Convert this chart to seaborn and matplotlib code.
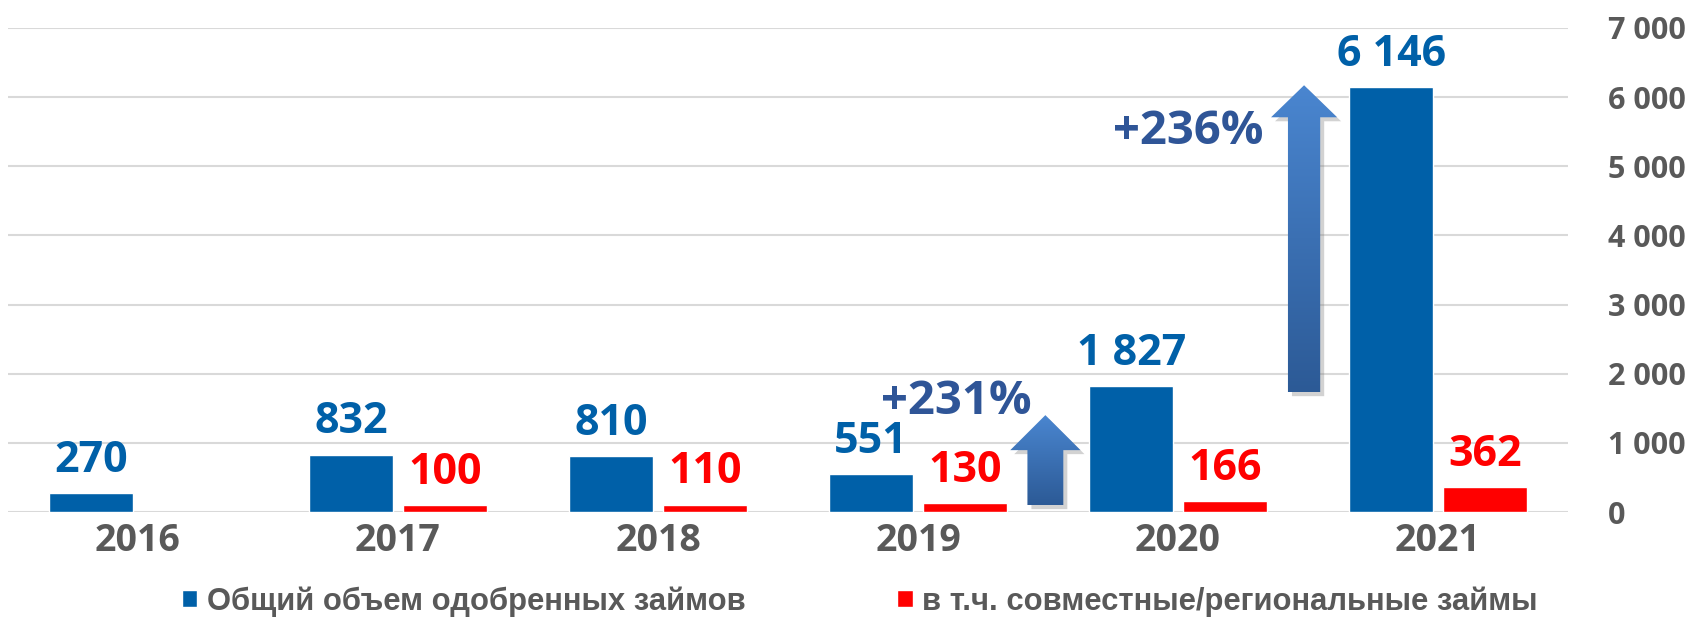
import numpy as np
import pandas as pd
import seaborn as sns
import matplotlib.pyplot as plt
from matplotlib.patches import Polygon, Patch
from matplotlib import transforms
from matplotlib.ticker import FuncFormatter

years = ["2016", "2017", "2018", "2019", "2020", "2021"]
total_loans = [270, 832, 810, 551, 1827, 6146]
joint_loans = [np.nan, 100, 110, 130, 166, 362]
series_names = ["Общий объем одобренных займов", "в т.ч. совместные/региональные займы"]
growth_labels = ["+231%", "+236%"]

BLUE = "#0060A8"
RED = "#FF0000"
GRAY = "#595959"
DARK = "#2F5597"

sns.set_style("white")
plt.rcParams["font.family"] = ["Open Sans", "DejaVu Sans"]
plt.rcParams["font.weight"] = "bold"

df = pd.DataFrame({
    "year": years * 2,
    "value": total_loans + joint_loans,
    "series": [series_names[0]] * len(years) + [series_names[1]] * len(years),
})

fig, ax = plt.subplots(figsize=(16.92, 6.2), dpi=100)
fig.subplots_adjust(left=0.0047, right=0.9267, bottom=0.174, top=0.955)

sns.barplot(data=df, x="year", y="value", hue="series", palette=[BLUE, RED],
            width=0.72, gap=0.1, saturation=1, legend=False, ax=ax, zorder=3)

fmt = lambda v: f"{v:,.0f}".replace(",", " ")
for cont, col in zip(ax.containers, [BLUE, RED]):
    ax.bar_label(cont, fmt=fmt, padding=8, color=col, fontsize=31,
                 fontweight="bold")

# growth arrows (gradient fill + soft shadow)
def up_arrow(xc, y0, y1, shaft, head, head_len):
    pts = [(xc - shaft, y0), (xc - shaft, y1 - head_len), (xc - head, y1 - head_len),
           (xc, y1), (xc + head, y1 - head_len), (xc + shaft, y1 - head_len),
           (xc + shaft, y0)]
    shadow_tr = transforms.offset_copy(ax.transData, fig=fig, x=4, y=-4, units="dots")
    ax.add_patch(Polygon(pts, closed=True, transform=shadow_tr, fc="#7f7f7f",
                         ec="none", alpha=0.35, zorder=4))
    poly = Polygon(pts, closed=True, fc="none", ec="none", zorder=5)
    ax.add_patch(poly)
    grad = np.linspace(1, 0, 256).reshape(-1, 1)
    cmap = sns.blend_palette(["#2C5A96", "#4A86D0"], as_cmap=True)
    im = ax.imshow(grad, cmap=cmap, aspect="auto", origin="upper",
                   extent=[xc - head, xc + head, y0, y1], zorder=5)
    im.set_clip_path(poly)

up_arrow(3.49, 101, 1402, 0.069, 0.135, 506)
up_arrow(4.485, 1734, 6171, 0.062, 0.127, 463)

ax.text(3.146, 1604, growth_labels[0], ha="center", va="center", fontsize=34,
        fontweight="bold", color=DARK, zorder=6)
ax.text(4.04, 5506, growth_labels[1], ha="center", va="center", fontsize=34,
        fontweight="bold", color=DARK, zorder=6)

ax.set_xlim(-0.5, 5.5)
ax.set_ylim(0, 7000)
ax.set_yticks(range(0, 7001, 1000))
ax.yaxis.set_major_formatter(FuncFormatter(lambda v, p: fmt(v)))
ax.yaxis.tick_right()
ax.yaxis.grid(True, color="#D9D9D9", lw=1.5, zorder=0)
ax.set_axisbelow(True)
ax.tick_params(axis="y", length=0, pad=29, labelsize=22, labelcolor=GRAY)
ax.tick_params(axis="x", length=0, pad=7, labelsize=27, labelcolor=GRAY)
for lab in ax.get_yticklabels():
    lab.set_ha("left")
ax.set_xlabel("")
ax.set_ylabel("")
sns.despine(ax=ax, left=True, bottom=True, right=True, top=True)

handles = [Patch(facecolor=BLUE), Patch(facecolor=RED)]
fig.legend(handles, series_names, loc="center", bbox_to_anchor=(0.508, 0.03),
           ncol=2, frameon=False, handlelength=0.5, handleheight=0.5,
           handletextpad=0.3, columnspacing=4.9,
           prop={"family": ["Liberation Sans", "DejaVu Sans"],
                 "weight": "bold", "size": 22.3},
           labelcolor=GRAY)

fig.savefig("out.png", dpi=100)
